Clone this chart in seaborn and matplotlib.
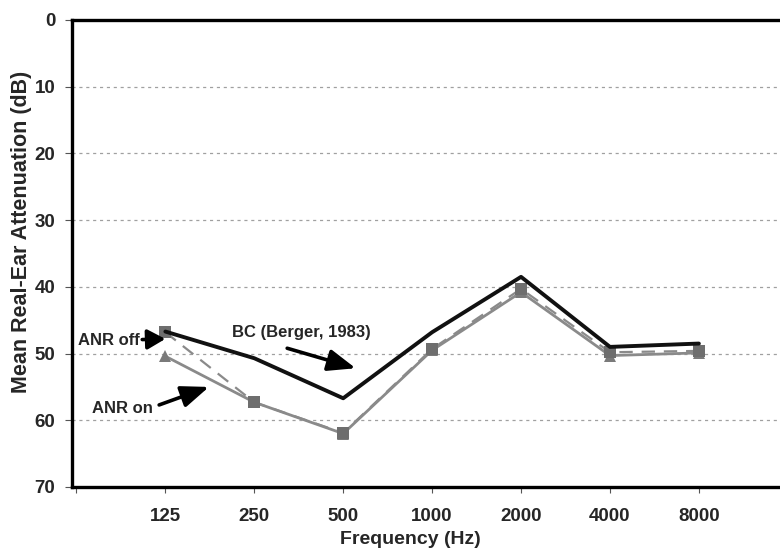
import numpy as np
import pandas as pd
import matplotlib
matplotlib.use("Agg")
import matplotlib.pyplot as plt
import seaborn as sns

freqs = ["125", "250", "500", "1000", "2000", "4000", "8000"]
bc = [46.7, 50.7, 56.7, 46.8, 38.5, 49.0, 48.5]
anr_off = [46.8, 57.3, 61.9, 49.3, 40.3, 49.8, 49.6]
anr_on = [50.4, 57.3, 62.0, 49.5, 40.8, 50.3, 49.9]
yticks = [0, 10, 20, 30, 40, 50, 60, 70]

sns.set_theme(style="white")
plt.rcParams['font.family'] = ['Liberation Sans', 'DejaVu Sans']
plt.rcParams['font.weight'] = 'bold'

pos = np.arange(len(freqs))
df = pd.DataFrame({"pos": np.concatenate([pos, pos, pos]),
                   "val": bc + anr_off + anr_on,
                   "series": ["BC"] * 7 + ["ANR off"] * 7 + ["ANR on"] * 7})

fig = plt.figure(figsize=(7.8, 5.51), dpi=100)
ax = fig.add_axes([72 / 780, 1 - 487 / 551, 1 - 72 / 780 + 0.01, (487 - 20) / 551])

sns.lineplot(data=df[df.series == "ANR on"], x="pos", y="val", ax=ax, color="#8a8a8a",
             lw=2.0, marker="^", markersize=8, markeredgewidth=0, markerfacecolor="#7a7a7a",
             legend=False)
sns.lineplot(data=df[df.series == "ANR off"], x="pos", y="val", ax=ax, color="#8a8a8a",
             lw=1.6, dashes=False, linestyle=(0, (6, 4)), marker="s", markersize=9,
             markeredgewidth=0, markerfacecolor="#6e6e6e", legend=False)
sns.lineplot(data=df[df.series == "BC"], x="pos", y="val", ax=ax, color="#111111",
             lw=2.8, legend=False)

ax.set_xlim(-1.05, 6.96)
ax.set_ylim(70, 0)
ax.set_yticks(yticks)
ax.set_yticklabels([str(t) for t in yticks], fontsize=13.5, fontweight='bold')
ticks = np.arange(-1, 8)
ax.set_xticks(ticks)
ax.set_xticklabels([""] + freqs + [""], fontsize=13.5, fontweight='bold')
ax.tick_params(axis='x', length=4, width=0.8, color="#555555", pad=11, direction='out', bottom=True)
ax.tick_params(axis='y', length=5, width=0.8, color="#555555", pad=7, direction='out', left=True)

for g in [10, 20, 30, 40, 50, 60]:
    ax.axhline(g, color="#a0a0a0", lw=0.9, ls=(0, (2.5, 3)), zorder=0)

for s in ['left', 'top', 'bottom']:
    ax.spines[s].set_linewidth(2.4)
    ax.spines[s].set_color('black')
ax.spines['right'].set_visible(False)

ax.set_xlabel("Frequency (Hz)", fontsize=14, fontweight='bold')
ax.set_ylabel("Mean Real-Ear Attenuation (dB)", fontsize=15.5, fontweight='bold')
ax.xaxis.label.set_va('center')
ax.xaxis.set_label_coords((410 - 72) / 715.8, (487 - 540) / 467)
ax.yaxis.label.set_va('center')
ax.yaxis.set_label_coords((22 - 72) / 715.8, (487 - 232) / 467)

arrow = dict(arrowstyle="-|>,head_length=1.4,head_width=0.55", color="black", lw=2.6,
             shrinkA=0, shrinkB=0)
arrow_small = dict(arrowstyle="-|>,head_length=0.9,head_width=0.5", color="black", lw=2.6,
                   shrinkA=0, shrinkB=0)
ax.text(-0.98, 48.0, "ANR off", ha='left', va='center', fontsize=12, fontweight='bold')
ax.annotate("", xy=(0.0, 47.8), xytext=(-0.26, 47.9), arrowprops=arrow_small)
ax.annotate("", xy=(0.49, 55.0), xytext=(-0.07, 57.7), arrowprops=arrow)
ax.text(-0.82, 58.2, "ANR on", ha='left', va='center', fontsize=12, fontweight='bold')
ax.text(0.75, 46.8, "BC (Berger, 1983)", ha='left', va='center', fontsize=12, fontweight='bold')
ax.annotate("", xy=(2.14, 52.2), xytext=(1.37, 49.2), arrowprops=arrow)

fig.savefig("out.png", dpi=100)
